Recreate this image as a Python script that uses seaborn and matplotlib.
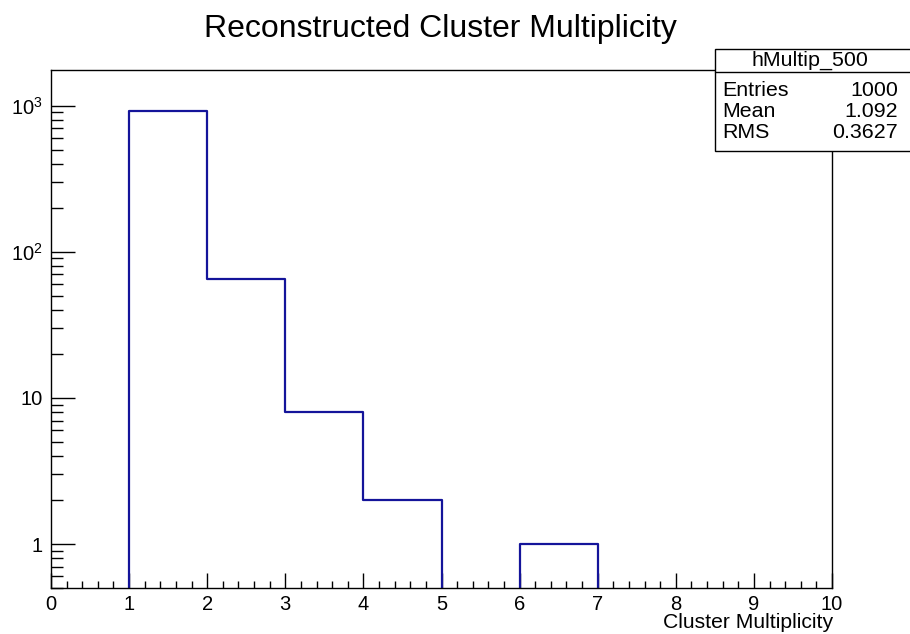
import numpy as np
import pandas as pd
import seaborn as sns
import matplotlib
matplotlib.use("Agg")
import matplotlib.pyplot as plt
from matplotlib.ticker import FixedLocator, FixedFormatter, LogLocator, MultipleLocator
from matplotlib.patches import Rectangle
from matplotlib.lines import Line2D

# Histogram contents: unit-width bins from 0 to 10
bin_edges = [0, 1, 2, 3, 4, 5, 6, 7, 8, 9, 10]
bin_counts = [0, 924, 65, 8, 2, 0, 1, 0, 0, 0]

hist_name = "hMultip_500"
title_text = "Reconstructed Cluster Multiplicity"
x_label = "Cluster Multiplicity"
y_tick_values = [1, 10, 100, 1000]
y_tick_labels = ["1", "10", r"$10^{2}$", r"$10^{3}$"]

sns.set_theme(style="white")
plt.rcParams["font.family"] = ["Liberation Sans", "DejaVu Sans"]
plt.rcParams["mathtext.fontset"] = "custom"
plt.rcParams["mathtext.rm"] = "Liberation Sans"
plt.rcParams["mathtext.it"] = "Liberation Sans:italic"
plt.rcParams["mathtext.bf"] = "Liberation Sans:bold"
plt.rcParams["text.color"] = "black"
plt.rcParams["xtick.color"] = "black"
plt.rcParams["ytick.color"] = "black"
plt.rcParams["xtick.labelcolor"] = "black"
plt.rcParams["ytick.labelcolor"] = "black"

W, H = 910, 634
fig = plt.figure(figsize=(W / 100, H / 100), dpi=100)
fig.patch.set_facecolor("white")

def fx(px):
    return px / W

def fy(py):
    return 1 - py / H

ax_l, ax_r, ax_t, ax_b = 51, 832, 70, 588
ax = fig.add_axes([fx(ax_l), fy(ax_b), fx(ax_r - ax_l), (ax_b - ax_t) / H])
ax.set_facecolor("white")

centers = [(a + b) / 2 for a, b in zip(bin_edges[:-1], bin_edges[1:])]
df = pd.DataFrame({"x": centers, "w": bin_counts})

ax.set_yscale("log")
sns.histplot(data=df, x="x", weights="w", bins=bin_edges, element="step",
             fill=False, color="#14149a", linewidth=1.6, ax=ax)

ax.set_xlim(0, 10)
ax.set_ylim(0.5, 1754)

# Axis frame
for side in ["left", "right", "top", "bottom"]:
    ax.spines[side].set_visible(True)
    ax.spines[side].set_color("black")
    ax.spines[side].set_linewidth(1.0)

# Ticks: inward, only on the left and bottom
ax.xaxis.set_major_locator(MultipleLocator(1))
ax.xaxis.set_minor_locator(MultipleLocator(0.2))
ax.yaxis.set_major_locator(FixedLocator(y_tick_values))
ax.yaxis.set_major_formatter(FixedFormatter(y_tick_labels))
ax.yaxis.set_minor_locator(LogLocator(base=10, subs=np.arange(2, 10), numticks=20))
ax.yaxis.set_minor_formatter(FixedFormatter([]))

ax.tick_params(axis="x", which="major", direction="in", length=10.8, width=1.0,
               labelsize=14.5, pad=5, bottom=True, top=False)
ax.tick_params(axis="x", which="minor", direction="in", length=5.4, width=1.0,
               bottom=True, top=False)
ax.tick_params(axis="y", which="major", direction="in", length=17.3, width=1.0,
               labelsize=14.5, pad=6, left=True, right=False)
ax.tick_params(axis="y", which="minor", direction="in", length=8.6, width=1.0,
               left=True, right=False)

ax.set_xlabel("")
ax.set_ylabel("")

# Axis title, right-aligned below the tick labels
fig.text(fx(833), fy(628), x_label, ha="right", va="baseline", fontsize=15.2)

# Main title
fig.text(fx(440), fy(37), title_text, ha="center", va="baseline", fontsize=23)

# Statistics box
box_l, box_t, box_r, box_b = 715, 49, 912, 151
fig.patches.append(Rectangle((fx(box_l), fy(box_b)), fx(box_r - box_l), (box_b - box_t) / H,
                             transform=fig.transFigure, facecolor="white",
                             edgecolor="black", linewidth=1.0, zorder=5))
fig.lines.append(Line2D([fx(box_l), fx(box_r)], [fy(72), fy(72)],
                        transform=fig.transFigure, color="black", linewidth=1.0, zorder=6))
fig.text(fx(810), fy(66), hist_name, ha="center", va="baseline", fontsize=15.4, zorder=7)

n_entries = sum(bin_counts)
values = np.array(centers) - 0.5
mean = float(np.sum(values * np.array(bin_counts)) / n_entries)
rms = float(np.sqrt(np.sum((values - mean) ** 2 * np.array(bin_counts)) / n_entries))
stat_rows = [("Entries", f"{n_entries}"), ("Mean", f"{mean:.3f}"), ("RMS", f"{rms:.4f}")]
row_baseline = [96, 117, 138]
for (name, val), yy in zip(stat_rows, row_baseline):
    fig.text(fx(722), fy(yy), name, ha="left", va="baseline", fontsize=15.4, zorder=7)
    fig.text(fx(898), fy(yy), val, ha="right", va="baseline", fontsize=15.4, zorder=7)

fig.savefig("out.png", dpi=100, facecolor="white")
